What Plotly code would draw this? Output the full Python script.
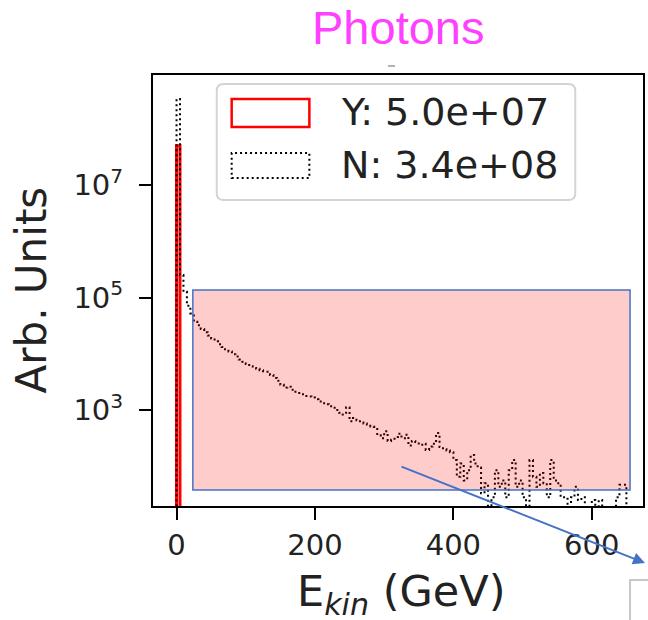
import plotly.graph_objects as go

# ---------------- data ----------------
bin_width = 5
bin_edges = [i * bin_width for i in range(130)]  # 0 .. 645 GeV

# "N" histogram (black dotted), counts per 5 GeV bin
n_counts = [
    3.39e8, 250000, 126000, 71000, 52000, 37000, 32000, 27500, 24000, 21000,
    18600, 16600, 14800, 13200, 12000, 11000, 9800, 8900, 7900, 7200,
    6600, 6000, 5600, 5400, 5100, 4900, 4800, 4200, 3700, 3300,
    2800, 2500, 2600, 2300, 2100, 2000, 1900, 1780, 1740, 1660,
    1550, 1410, 1320, 1260, 1170, 1100, 1000, 890, 830, 1120,
    630, 720, 660, 600, 575, 550, 510, 500, 355, 316,
    417, 282, 295, 331, 380, 316, 363, 234, 282, 269,
    240, 251, 195, 224, 251, 389, 219, 200, 190, 178,
    129, 65, 112, 56, 85, 158, 112, 95, 33, 50,
    0, 28, 85, 43, 56, 28, 85, 129, 43, 56,
    28, 0, 129, 65, 43, 76, 50, 28, 129, 56,
    50, 28, 28, 0, 28, 43, 25, 28, 0, 0,
    25, 0, 25, 0, 0, 0, 0, 28, 47,
]
# "Y" histogram (red solid): everything in the first bin
y_counts = [5.0e7] + [0] * 128

x_ticks = [0, 200, 400, 600]
y_ticks = [1e3, 1e5, 1e7]
y_ticktext = ["10<sup>3</sup>", "10<sup>5</sup>", "10<sup>7</sup>"]

title_text = "Photons"
x_title = "E<sub><i>kin</i></sub> (GeV)"
y_title = "Arb. Units"

# ---------------- helpers ----------------
W, H = 648, 620
L, R, T, B = 153, 645, 75, 506


def px(x):
    return (x - L) / (R - L)


def py(y):
    return (B - y) / (B - T)


def step_xy(counts, edges, floor=1e-2):
    xs, ys = [edges[0]], [floor]
    for i, c in enumerate(counts):
        xs.append(edges[i])
        ys.append(c if c > 0 else floor)
    xs.append(edges[-1] + bin_width)
    ys.append(floor)
    return xs, ys


def rounded_rect(x0, y0, x1, y1, r):
    rx = r / (R - L)
    ry = r / (B - T)
    X0, X1 = px(x0), px(x1)
    Y0, Y1 = py(y1), py(y0)  # bottom, top
    return (
        f"M {X0 + rx},{Y0} L {X1 - rx},{Y0} Q {X1},{Y0} {X1},{Y0 + ry} "
        f"L {X1},{Y1 - ry} Q {X1},{Y1} {X1 - rx},{Y1} "
        f"L {X0 + rx},{Y1} Q {X0},{Y1} {X0},{Y1 - ry} "
        f"L {X0},{Y0 + ry} Q {X0},{Y0} {X0 + rx},{Y0} Z"
    )


FONT = "DejaVu Sans"
TXT = "#222222"

fig = go.Figure()

xr, yr = step_xy(y_counts, bin_edges)
fig.add_trace(go.Scatter(x=xr, y=yr, mode="lines", line_shape="hv",
                         line=dict(color="#ff0000", width=3),
                         hoverinfo="skip", showlegend=False))
xn, yn = step_xy(n_counts, bin_edges)
fig.add_trace(go.Scatter(x=xn, y=yn, mode="lines", line_shape="hv",
                         line=dict(color="#000000", width=2, dash="2px,3px"),
                         hoverinfo="skip", showlegend=False))

shapes = [
    # translucent highlight box
    dict(type="rect", xref="paper", yref="paper",
         x0=px(193), x1=px(632), y0=py(490), y1=py(290),
         fillcolor="rgba(255,0,0,0.2)", line=dict(color="#4472c4", width=1.5)),
    # legend frame
    dict(type="path", xref="paper", yref="paper",
         path=rounded_rect(217, 84, 577, 200, 7),
         fillcolor="rgba(255,255,255,0.85)", line=dict(color="#d4d4d4", width=2)),
    # legend handles
    dict(type="rect", xref="paper", yref="paper",
         x0=px(232), x1=px(310), y0=py(127), y1=py(99),
         line=dict(color="#ff0000", width=2.5)),
    dict(type="rect", xref="paper", yref="paper",
         x0=px(232), x1=px(310), y0=py(178), y1=py(153),
         line=dict(color="#000000", width=2, dash="2px,3px")),
    # partial box at bottom right
    dict(type="rect", xref="paper", yref="paper",
         x0=px(632), x1=px(700), y0=py(700), y1=py(580),
         fillcolor="white", line=dict(color="#c8c8c8", width=2)),
    # small dash above axes
    dict(type="line", xref="paper", yref="paper",
         x0=px(389), x1=px(396), y0=py(66), y1=py(66),
         line=dict(color="#999999", width=1.5)),
]

annotations = [
    dict(text=title_text, x=px(399), y=py(27), xref="paper", yref="paper",
         xanchor="center", yanchor="middle", showarrow=False,
         font=dict(family="Liberation Sans, Arial", size=47, color="#ff40ff")),
    dict(text=x_title, x=px(402), y=py(594), xref="paper", yref="paper",
         xanchor="center", yanchor="middle", showarrow=False,
         font=dict(family=FONT, size=43, color=TXT)),
    dict(text=y_title, x=px(30), y=py(290), xref="paper", yref="paper",
         xanchor="center", yanchor="middle", showarrow=False, textangle=-90,
         font=dict(family=FONT, size=42, color=TXT)),
    dict(text=f"Y: {sum(y_counts):.1e}", x=px(340), y=py(112), xref="paper", yref="paper",
         xanchor="left", yanchor="middle", showarrow=False,
         font=dict(family=FONT, size=38, color=TXT)),
    dict(text=f"N: {sum(n_counts):.1e}", x=px(340), y=py(165), xref="paper", yref="paper",
         xanchor="left", yanchor="middle", showarrow=False,
         font=dict(family=FONT, size=38, color=TXT)),
    # arrow
    dict(text="", x=px(647), y=py(563), xref="paper", yref="paper",
         ax=402 - 647, ay=466 - 563, axref="pixel", ayref="pixel",
         showarrow=True, arrowhead=2, arrowsize=1.2, arrowwidth=2,
         arrowcolor="#4472c4"),
]

fig.update_layout(
    width=W, height=H,
    margin=dict(l=L, r=W - R, t=T, b=H - B),
    paper_bgcolor="white", plot_bgcolor="white",
    shapes=shapes, annotations=annotations,
    showlegend=False,
    font=dict(family=FONT, color=TXT),
)
fig.update_xaxes(range=[-34, 674], tickvals=x_ticks, ticks="outside", ticklen=12,
                 tickwidth=2, tickcolor="black", showline=True, linewidth=2,
                 linecolor="black", mirror=True, showgrid=False, zeroline=False,
                 tickfont=dict(family=FONT, size=29, color=TXT))
fig.update_yaxes(type="log", range=[1.293, 8.956], tickvals=y_ticks, ticktext=y_ticktext,
                 ticks="outside", ticklen=12, tickwidth=2, tickcolor="black",
                 ticklabelstandoff=10,
                 showline=True, linewidth=2, linecolor="black", mirror=True,
                 showgrid=False, zeroline=False,
                 tickfont=dict(family=FONT, size=29, color=TXT))

fig.write_html("out.html", config={"displayModeBar": False},
               post_script="document.body.style.margin='0px';")
